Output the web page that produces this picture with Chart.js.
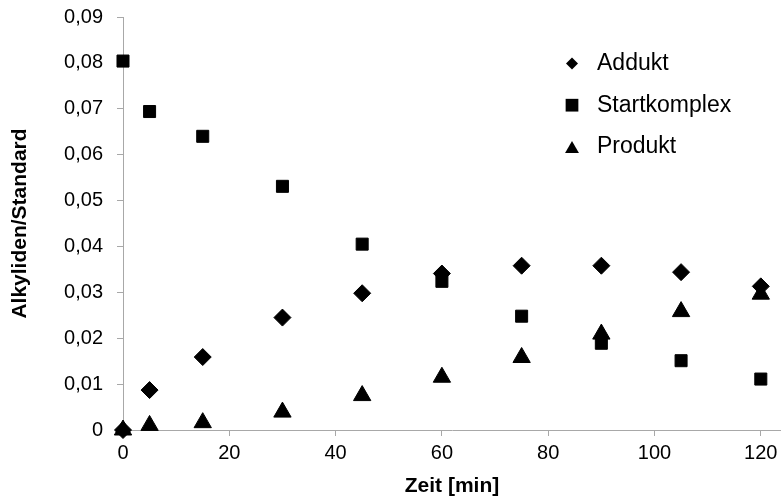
<!DOCTYPE html>
<html>
<head>
<meta charset="utf-8">
<script src="https://cdn.jsdelivr.net/npm/chart.js@4.4.1/dist/chart.umd.min.js"></script>
<style>
    html, body { margin: 0; padding: 0; background: #fff; }
    #wrap { width: 781px; height: 497px; }
</style>
</head>
<body>
<div id="wrap"><canvas id="kinetik" width="781" height="497"></canvas></div>
<script>
/* Alkyliden/Standard over time — scatter with three series */

const zeit = [0, 5, 15, 30, 45, 60, 75, 90, 105, 120];
const addukt = [0, 0.0087, 0.0159, 0.0245, 0.0298, 0.0341, 0.0358, 0.0358, 0.0344, 0.0313];
const startkomplex = [0.0804, 0.0694, 0.0640, 0.0531, 0.0405, 0.0324, 0.0248, 0.0189, 0.0151, 0.0111];
const produkt = [0, 0.0010, 0.0016, 0.0039, 0.0075, 0.0115, 0.0158, 0.0209, 0.0258, 0.0296];

const seriesNames = ['Addukt', 'Startkomplex', 'Produkt'];
const xTicks = [0, 20, 40, 60, 80, 100, 120];
const yTicks = [0, 0.01, 0.02, 0.03, 0.04, 0.05, 0.06, 0.07, 0.08, 0.09];

const FONT = '"Liberation Sans", Arial, sans-serif';
const AXIS_GREY = '#a8a8a8';

function points(ys) {
    return zeit.map(function (t, i) { return { x: t, y: ys[i] }; });
}

// legend drawn inside the plot area, top right, like the original
const legendMarkers = [
    { style: 'rectRot', radius: 6, dy: 0 },
    { style: 'rect', radius: 9, dy: 0 },
    { style: 'triangle', radius: 8, dy: 2 },
];

const insideLegend = {
    id: 'insideLegend',
    afterDraw(chart) {
        const ctx = chart.ctx;
        ctx.save();
        ctx.fillStyle = '#000';
        ctx.strokeStyle = '#000';
        ctx.font = '23px ' + FONT;
        ctx.textBaseline = 'middle';
        ctx.textAlign = 'left';
        chart.data.datasets.forEach(function (ds, i) {
            const y = 63.5 + i * 41.7;
            const m = legendMarkers[i];
            Chart.helpers.drawPoint(ctx, {
                pointStyle: m.style, radius: m.radius, borderWidth: 0, rotation: 0,
            }, 572, y + m.dy);
            ctx.fillText(ds.label, 597, y);
        });
        ctx.restore();
    },
};

const ctx = document.getElementById('kinetik');

new Chart(ctx, {
    type: 'scatter',
    data: {
        datasets: [
            {
                label: seriesNames[0],
                data: points(addukt),
                pointStyle: 'rectRot',
                pointRadius: 8.5,
                backgroundColor: '#000',
                borderColor: '#000',
                borderWidth: 1,
                clip: false,
                order: 3,
            },
            {
                label: seriesNames[1],
                data: points(startkomplex),
                pointStyle: 'rect',
                pointRadius: 8.5,
                backgroundColor: '#000',
                borderColor: '#000',
                borderWidth: 1,
                clip: false,
                order: 2,
            },
            {
                label: seriesNames[2],
                data: points(produkt),
                pointStyle: 'triangle',
                pointRadius: 10,
                backgroundColor: '#000',
                borderColor: '#000',
                borderWidth: 1,
                clip: false,
                order: 1,
            },
        ],
    },
    options: {
        responsive: false,
        animation: false,
        layout: { autoPadding: false, padding: { top: 17, right: 0, bottom: 0, left: 0 } },
        plugins: {
            legend: { display: false },
            tooltip: { enabled: false },
        },
        scales: {
            x: {
                type: 'linear',
                min: 0,
                max: 123.8,
                afterBuildTicks: function (s) { s.ticks = xTicks.map(function (v) { return { value: v }; }); },
                afterFit: function (s) {
                    s.height = 67;
                    s.paddingLeft = 0;
                    s.paddingRight = 0;
                },
                grid: { drawOnChartArea: false, drawTicks: true, tickLength: 6, color: AXIS_GREY },
                border: { color: AXIS_GREY, width: 1 },
                ticks: { color: '#000', padding: 5, font: { family: FONT, size: 20 } },
                title: {
                    display: true,
                    text: 'Zeit [min]',
                    color: '#000',
                    padding: { top: 0, bottom: 0 },
                    font: { family: FONT, size: 21, weight: 'bold', lineHeight: 1 },
                },
            },
            y: {
                type: 'linear',
                min: 0,
                max: 0.09,
                afterBuildTicks: function (s) { s.ticks = yTicks.map(function (v) { return { value: v }; }); },
                afterFit: function (s) {
                    s.width = 123;
                    s.paddingTop = 0;
                    s.paddingBottom = 0;
                },
                grid: { drawOnChartArea: false, drawTicks: true, tickLength: 6, color: AXIS_GREY },
                border: { color: AXIS_GREY, width: 1 },
                ticks: {
                    color: '#000',
                    padding: 14,
                    font: { family: FONT, size: 20 },
                    callback: function (v) { return v === 0 ? '0' : v.toFixed(2).replace('.', ','); },
                },
                title: {
                    display: true,
                    text: 'Alkyliden/Standard',
                    color: '#000',
                    padding: { top: 10, bottom: 0 },
                    font: { family: FONT, size: 21, weight: 'bold', lineHeight: 1 },
                },
            },
        },
    },
    plugins: [insideLegend],
});
</script>
</body>
</html>
